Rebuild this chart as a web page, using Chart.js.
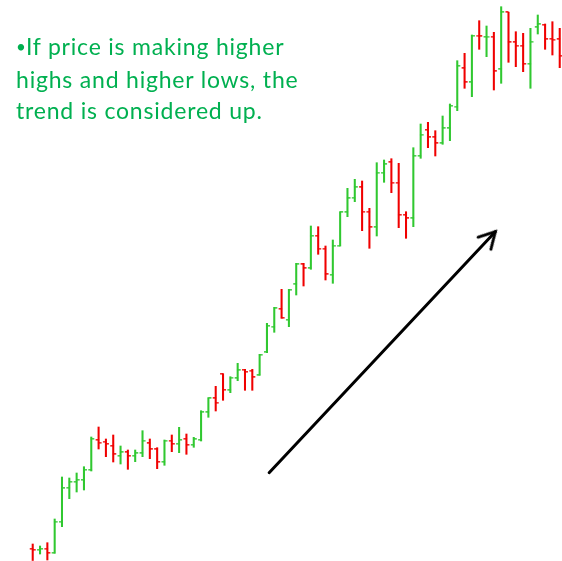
<!DOCTYPE html>
<html>
<head>
<meta charset="utf-8">
<script src="https://cdn.jsdelivr.net/npm/chart.js@4/dist/chart.umd.min.js"></script>
<style>
    body { margin: 0; background: #ffffff; }
    #wrap { position: relative; width: 562px; height: 561px; }
    #note {
        position: absolute;
        left: 16px;
        top: 31px;
        font-family: Lato, 'Open Sans', sans-serif;
        font-size: 23px;
        letter-spacing: 0.8px;
        line-height: 31px;
        color: #00b050;
        white-space: nowrap;
    }
    #note .dot { font-size: 17px; letter-spacing: 0; position: relative; top: -2px; }
</style>
</head>
<body>
<div id="wrap">
    <canvas id="chart" width="562" height="561"></canvas>
    <div id="note"><span class="dot">•</span>If price is making higher<br>highs and higher lows, the<br>trend is considered up.</div>
</div>
<script>
// OHLC values, one entry per bar
const opens = [
    12, 11, 12.3, 8, 39.3, 73, 79, 81, 91, 121,
    119.3, 115, 105, 108.7, 105, 107.7, 117.7, 111.7, 99, 120.3,
    117, 122, 116, 121, 148.7, 162.7, 187, 170.7, 182.7, 191,
    190.3, 185.7, 208.7, 234.3, 252, 241, 276.7, 296.7, 292.7, 325,
    312.3, 286, 315.3, 348.7, 363.3, 373.7, 349.3, 333.7, 388.3, 398.7,
    378.3, 346, 342.7, 405, 431, 423.7, 417.7, 432.7, 454.3, 492.7,
    478.7, 525.5, 524, 524.3, 491.7, 548.7, 518.7, 515.3, 497, 533.7,
    536, 522, 521.7
];
const highs = [
    17, 15, 18.3, 42, 84, 83, 88, 94.3, 124, 134,
    122, 126, 115, 111, 111, 130.3, 122, 113.3, 121, 126,
    133.7, 127, 123.7, 150.3, 163.3, 174.7, 187.3, 184.3, 197.7, 191.7,
    191.7, 206.7, 237.7, 253.7, 271.7, 271.7, 297.7, 297.7, 335, 334.3,
    315, 321, 349.3, 372.7, 381.7, 380, 352.7, 398.3, 401, 402.3,
    397.7, 349.3, 413.3, 437, 438.7, 430.3, 445, 457, 500.3, 507.7,
    526, 540.3, 535, 528.7, 554.3, 548.7, 529.3, 527.7, 532.7, 546,
    537, 539.3, 532.7
];
const lows = [
    0.5, 7, 1, 7.7, 34.3, 62.3, 69, 71, 90, 112,
    104.3, 99, 97, 91.7, 99.3, 104.3, 102.3, 92.3, 95.7, 109.3,
    108.3, 106.7, 113.7, 120, 143.7, 150, 160.7, 168.3, 180.3, 170.7,
    170.7, 185.7, 208.3, 228.7, 242.7, 234.3, 266, 275, 291.7, 306.7,
    281, 277.7, 315, 344.3, 359.3, 330.3, 312.7, 325, 378.7, 368.3,
    333.3, 322.7, 334.3, 402.7, 413.3, 405, 416.7, 420.3, 450.3, 472.7,
    464.3, 511.7, 504.3, 471, 477.7, 498.7, 494.3, 489.3, 472.7, 527,
    511.7, 506, 493.3
];
const closes = [
    11, 12, 8, 39.3, 72.7, 79, 81, 91, 122, 118.3,
    117, 106.7, 108.7, 105, 107.7, 120.3, 111.7, 99, 120.3, 117,
    121, 116, 121.7, 148.7, 162.7, 158.3, 171, 183.3, 190.7, 189,
    183.7, 206, 235, 252.7, 243, 271, 296.7, 292.7, 325, 312.3,
    286.7, 315.3, 348.7, 362.7, 373.7, 349.3, 333.7, 388.3, 396.7, 378.3,
    346, 342.7, 405, 426.3, 423.7, 417.7, 432.7, 455, 495, 478.7,
    525, 524.7, 524.5, 489.7, 548.7, 518.7, 515.3, 497, 519.3, 536.7,
    521.7, 521.3, 505.3
];

// arrow drawn over the chart: [bar position, price]
const arrowFrom = [33.3, 88.3];
const arrowTo = [64.2, 329.3];

const upColor = '#30c830';
const downColor = '#f00000';

const isUp = opens.map((o, i) => closes[i] >= o);
const barColors = isUp.map(u => u ? upColor : downColor);

// little horizontal ticks for open (left side) and close (right side)
function makeTick(color, side) {
    const c = document.createElement('canvas');
    c.width = 8;
    c.height = 2;
    const g = c.getContext('2d');
    g.fillStyle = color;
    g.globalAlpha = 0.85;
    if (side === 'left') {
        g.fillRect(1, 0, 3.2, 1.6);
    } else {
        g.fillRect(3.8, 0, 3.2, 1.6);
    }
    return c;
}
const openTicks = { up: makeTick(upColor, 'left'), down: makeTick(downColor, 'left') };
const closeTicks = { up: makeTick(upColor, 'right'), down: makeTick(downColor, 'right') };

// open chevron head for the arrow, tip at canvas centre pointing right
function makeHead() {
    const c = document.createElement('canvas');
    c.width = 44;
    c.height = 44;
    const g = c.getContext('2d');
    g.strokeStyle = '#000000';
    g.lineWidth = 3;
    g.lineCap = 'round';
    g.lineJoin = 'miter';
    const len = 18;
    const ang = 29 * Math.PI / 180;
    g.beginPath();
    g.moveTo(22 - len * Math.cos(ang), 22 - len * Math.sin(ang));
    g.lineTo(22, 22);
    g.lineTo(22 - len * Math.cos(ang), 22 + len * Math.sin(ang));
    g.stroke();
    return c;
}
const arrowHead = makeHead();
const arrowAngle = -Math.atan2(arrowTo[1] - arrowFrom[1], (arrowTo[0] - arrowFrom[0]) * 7.32) * 180 / Math.PI;

const idx = opens.map((o, i) => i + 1);

new Chart(document.getElementById('chart'), {
    type: 'bar',
    data: {
        datasets: [
            {
                type: 'line',
                label: 'arrow',
                data: [{ x: arrowFrom[0], y: arrowFrom[1] }, { x: arrowTo[0], y: arrowTo[1] }],
                borderColor: '#000000',
                borderWidth: 3,
                borderCapStyle: 'round',
                pointRadius: [0, 5],
                pointStyle: arrowHead,
                rotation: arrowAngle,
                clip: false,
                order: 0
            },
            {
                type: 'line',
                label: 'open',
                data: idx.map(i => ({ x: i, y: opens[i - 1] })),
                showLine: false,
                pointRadius: 3,
                pointStyle: ctx => isUp[ctx.dataIndex] ? openTicks.up : openTicks.down,
                clip: false,
                order: 1
            },
            {
                type: 'line',
                label: 'close',
                data: idx.map(i => ({ x: i, y: closes[i - 1] })),
                showLine: false,
                pointRadius: 3,
                pointStyle: ctx => isUp[ctx.dataIndex] ? closeTicks.up : closeTicks.down,
                clip: false,
                order: 1
            },
            {
                label: 'range',
                data: idx.map(i => ({ x: i, y: [lows[i - 1], highs[i - 1]] })),
                backgroundColor: barColors,
                borderWidth: 0,
                barThickness: 1.4,
                grouped: false,
                clip: false,
                order: 2
            }
        ]
    },
    options: {
        responsive: false,
        animation: false,
        events: [],
        layout: { padding: 0, autoPadding: false },
        plugins: {
            legend: { display: false },
            tooltip: { enabled: false },
            title: { display: false }
        },
        scales: {
            x: {
                type: 'linear',
                display: false,
                offset: false,
                min: -3.47,
                max: 73.31
            },
            y: {
                type: 'linear',
                display: false,
                min: 0,
                max: 561
            }
        }
    }
});
</script>
</body>
</html>
